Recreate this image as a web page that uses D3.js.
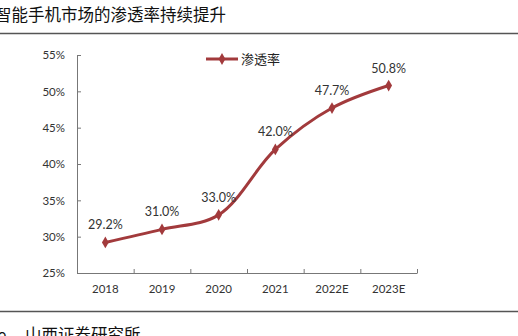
<!DOCTYPE html>
<html><head><meta charset="utf-8">
<script src="https://cdn.jsdelivr.net/npm/d3@7"></script>
<style>body{margin:0;background:#fff}svg{display:block}</style>
</head><body><svg id="c" width="518" height="336"></svg>
<script>
const categories = ["2018","2019","2020","2021","2022E","2023E"];
const values = [29.2, 31.0, 33.0, 42.0, 47.7, 50.8];
const yTicks = [25,30,35,40,45,50,55];
const seriesName = "渗透率";
const title = "智能手机市场的渗透率持续提升";
const sourcePrefix = "Source，";
const sourceText = "山西证券研究所";

(function(){
const svg = d3.select("#c");
const W = 518, H = 336;
const mLeft = 77, mRight = 417, mTop = 55, mBottom = 273;
const color = "#A23A3C";
const font = "Lato, 'Open Sans', 'Noto Sans CJK SC', sans-serif";
const cjk = "'Noto Sans CJK SC', sans-serif";

svg.append("text").attr("x", -5).attr("y", 21).attr("font-family", cjk)
  .attr("font-size", 16.5).attr("fill", "#111").text(title);
svg.append("line").attr("x1", 0).attr("x2", W).attr("y1", 33.5).attr("y2", 33.5)
  .attr("stroke", "#555").attr("stroke-width", 1.3);
svg.append("line").attr("x1", 0).attr("x2", W).attr("y1", 311.5).attr("y2", 311.5)
  .attr("stroke", "#555").attr("stroke-width", 1.3);
svg.append("text").attr("x", 23).attr("y", 341).attr("font-family", cjk)
  .attr("font-size", 16.5).attr("fill", "#111").attr("text-anchor", "end").text(sourcePrefix);
svg.append("text").attr("x", 25).attr("y", 341).attr("font-family", cjk)
  .attr("font-size", 16.5).attr("fill", "#111").text(sourceText);

const x = d3.scaleBand().domain(categories).range([mLeft, mRight]);
const y = d3.scaleLinear().domain([25, 55]).range([mBottom, mTop]);

const ya = svg.append("g").attr("transform", `translate(${mLeft},0)`)
  .call(d3.axisLeft(y).tickValues(yTicks).tickFormat(d => d + "%").tickSizeInner(-4).tickSizeOuter(-4).tickPadding(12));
ya.select(".domain").attr("stroke", "#777");
ya.selectAll(".tick line").attr("stroke", "#777");
ya.selectAll("text").attr("font-family", font).attr("font-size", 11.5).attr("fill", "#333");

const xa = svg.append("g").attr("transform", `translate(0,${mBottom})`)
  .call(d3.axisBottom(x).tickSize(0).tickPadding(12));
xa.select(".domain").attr("stroke", "#777");
xa.selectAll("text").attr("font-family", font).attr("font-size", 11.5).attr("fill", "#333");
const bounds = categories.map(c => x(c) + x.bandwidth());
svg.append("g").selectAll("line").data(bounds).join("line")
  .attr("x1", d => d + 0.5).attr("x2", d => d + 0.5)
  .attr("y1", mBottom).attr("y2", mBottom - 4).attr("stroke", "#777");

const cx = c => x(c) + x.bandwidth() / 2;
const data = categories.map((c, i) => ({c, v: values[i]}));

const line = d3.line().x(d => cx(d.c)).y(d => y(d.v)).curve(d3.curveCatmullRom.alpha(0.5));
svg.append("path").datum(data).attr("d", line).attr("fill", "none")
  .attr("stroke", color).attr("stroke-width", 3);

const diamond = d3.symbol().type(d3.symbolDiamond).size(40);
svg.append("g").selectAll("path").data(data).join("path")
  .attr("transform", d => `translate(${cx(d.c)},${y(d.v)})`)
  .attr("d", diamond).attr("fill", color);

svg.append("g").selectAll("text").data(data).join("text")
  .attr("x", d => cx(d.c)).attr("y", d => y(d.v) - 13)
  .attr("text-anchor", "middle").attr("font-family", font).attr("font-size", 12.5)
  .attr("fill", "#333").text(d => d.v.toFixed(1) + "%");

const lg = svg.append("g");
lg.append("line").attr("x1", 206).attr("x2", 238).attr("y1", 59).attr("y2", 59)
  .attr("stroke", color).attr("stroke-width", 3);
lg.append("path").attr("transform", "translate(222,59)").attr("d", diamond).attr("fill", color);
lg.append("text").attr("x", 241).attr("y", 64).attr("font-family", cjk)
  .attr("font-size", 13).attr("fill", "#222").text(seriesName);
})();
</script></body></html>
